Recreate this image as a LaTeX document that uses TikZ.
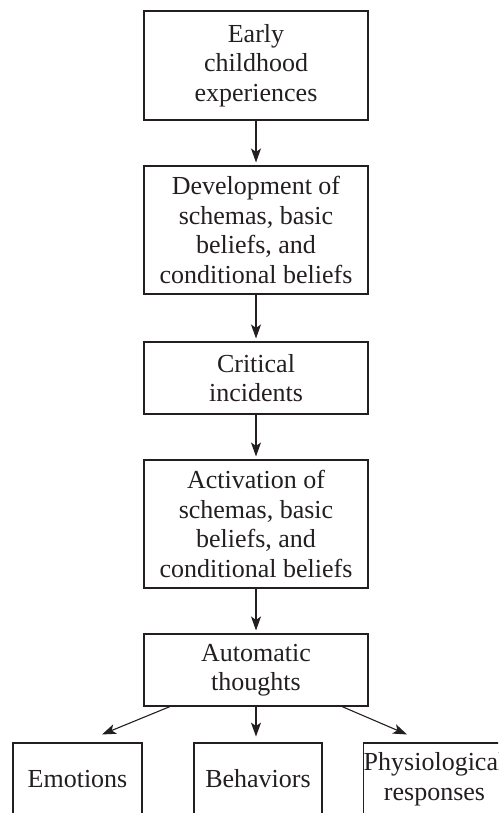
\documentclass[tikz,border=0pt]{standalone}
\usepackage{fontspec}
\setmainfont{Liberation Serif}
\usetikzlibrary{arrows.meta,calc}
\definecolor{ink}{HTML}{231F20}
\tikzset{
  box/.style={draw=ink, line width=1.1pt, inner sep=0pt, align=center,
    text=ink, font=\fontsize{26}{29.5}\selectfont},
  arr/.style={draw=ink, line width=1.1pt, -{Stealth[length=14pt,width=10pt,inset=3.5pt]}}
}
\begin{document}
\begin{tikzpicture}[x=1pt,y=-1pt]
\useasboundingbox (0,0) rectangle (498,813);
\clip (0,0) rectangle (498,813);
\node[box, minimum width=224pt, minimum height=109pt] (early) at (256,65.5) {Early\\childhood\\experiences};
\node[box, minimum width=224pt, minimum height=128pt] (dev) at (256,230) {Development of\\schemas, basic\\beliefs, and\\conditional beliefs};
\node[box, minimum width=224pt, minimum height=72pt] (crit) at (256,378) {Critical\\incidents};
\node[box, minimum width=224pt, minimum height=128pt] (act) at (256,524) {Activation of\\schemas, basic\\beliefs, and\\conditional beliefs};
\node[box, minimum width=224pt, minimum height=72pt] (auto) at (256,670) {Automatic\\thoughts};
\node[box, minimum width=129pt, minimum height=72pt] (emo) at (77.5,779) {Emotions};
\node[box, minimum width=128pt, minimum height=72pt] (beh) at (258,779) {Behaviors};
\node[box, minimum width=129pt, minimum height=72pt] (phys) at (434.5,779) {Physiological\\responses};
\draw[arr, shorten >=3pt] (early) -- (dev);
\draw[arr, shorten >=3pt] (dev) -- (crit);
\draw[arr, shorten >=3pt] (crit) -- (act);
\draw[arr, shorten >=3pt] (act) -- (auto);
\coordinate (emoend) at ($(emo.north)+(24.5,-8)$);
\coordinate (behend) at ($(auto.south)+(0,30)$);
\coordinate (physend) at ($(phys.north)+(-27.5,-8)$);
\draw[arr] ($(auto.south)+(-86,0)$) -- (emoend);
\draw[arr] (auto.south) -- (behend);
\draw[arr] ($(auto.south)+(86,0)$) -- (physend);
\end{tikzpicture}
\end{document}
